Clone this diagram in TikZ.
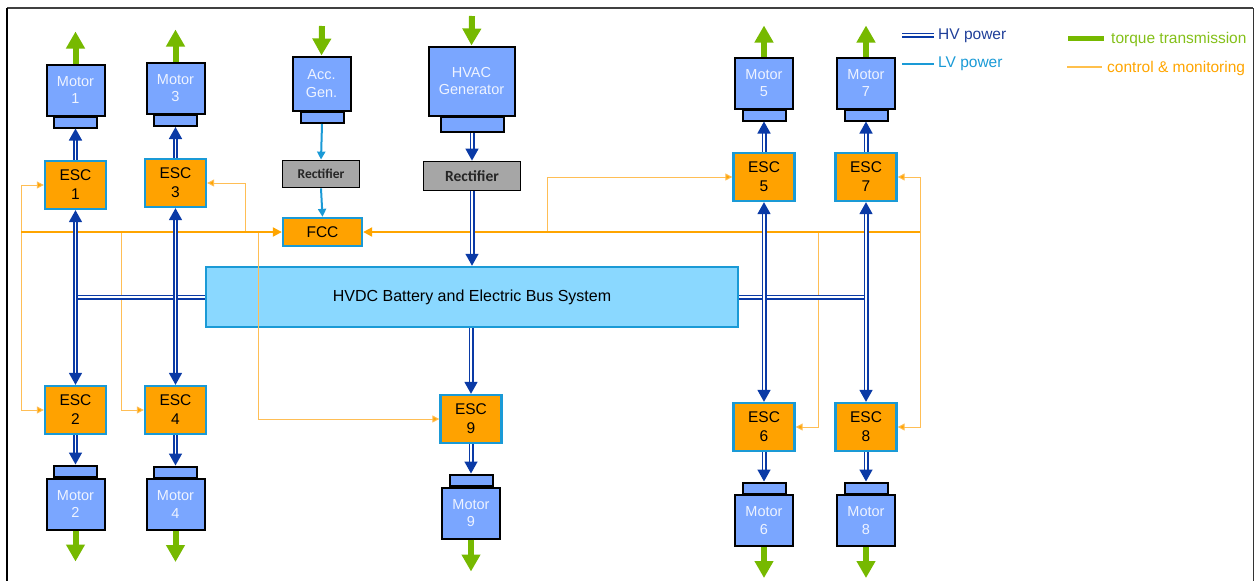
\documentclass[tikz,border=0pt]{standalone}
\usepackage{fontspec}
\setmainfont{Liberation Sans}
\newfontfamily\calfont{Carlito}
\usetikzlibrary{arrows.meta}
\definecolor{motorblue}{HTML}{7AA6FF}
\definecolor{motortext}{HTML}{EEF3FF}
\definecolor{escorange}{HTML}{FFA200}
\definecolor{lblue}{HTML}{1A9AD6}
\definecolor{hvdcfill}{HTML}{8AD8FF}
\definecolor{hvblue}{HTML}{0A3AA6}
\definecolor{hvtext}{HTML}{1F3F99}
\definecolor{tgreen}{HTML}{76B900}
\definecolor{ctrlorange}{HTML}{FFA500}
\definecolor{ctrlthin}{HTML}{FFBE55}
\definecolor{rectgray}{HTML}{A6A6A6}
\tikzset{
  motor/.style={draw=black, line width=2pt, fill=motorblue, minimum width=58pt, minimum height=51pt, inner sep=0pt, text=motortext, font=\fontsize{14.5}{17.5}\selectfont, align=center},
  motorcap/.style={draw=black, line width=2pt, fill=motorblue, minimum width=43pt, minimum height=11pt, inner sep=0pt},
  esc/.style={draw=lblue, line width=2.3pt, fill=escorange, minimum width=61pt, minimum height=48pt, inner sep=0pt, font=\fontsize{15.5}{19}\selectfont, align=center},
  rect/.style={draw=black, line width=1.8pt, fill=rectgray, inner sep=0pt, text=black!85},
  hvdcbox/.style={draw=lblue, line width=2.5pt, fill=hvdcfill, minimum width=532pt, minimum height=60pt, inner sep=0pt, font=\fontsize{16}{19}\selectfont},
  hv/.style={draw=hvblue, double=white, double distance=1.8pt, line width=1.6pt},
  hvarrow/.style={hv, -{Triangle[length=12pt,width=13pt]}},
  hvboth/.style={hv, {Triangle[length=12pt,width=13pt]}-{Triangle[length=12pt,width=13pt]}},
  lv/.style={draw=lblue, line width=2pt, -{Triangle[length=8pt,width=8pt]}},
  torque/.style={draw=tgreen, line width=6pt, -{Triangle[length=17pt,width=18pt]}},
  ctrlmain/.style={draw=ctrlorange, line width=2pt, -{Triangle[length=9pt,width=9pt]}},
  ctrl/.style={draw=ctrlthin, line width=1pt, -{Triangle[length=7pt,width=7pt,fill=ctrlorange]}},
  legendtext/.style={anchor=west, inner sep=0pt, font=\fontsize{15.5}{18}\selectfont}
}
\begin{document}
\begin{tikzpicture}[x=1pt,y=-1pt]
\useasboundingbox (0,0) rectangle (1257,581);
% frame
\draw[black!75, line width=1.5pt] (7,8) -- (1253,8);
\draw[black, line width=2.5pt] (7,8) -- (7,581);
\draw[black!80, line width=1pt] (1253,8) -- (1253,581);

% HVDC
\node[hvdcbox] (hvdc) at (472,297) {HVDC Battery and Electric Bus System};

% motors top
\node[motor] (m1) at (75.5,90) {Motor\\1};
\node[motorcap] (m1c) at (75.5,122) {};
\node[motor] (m3) at (175.5,88) {Motor\\3};
\node[motorcap] (m3c) at (175.5,120.5) {};
\node[motor] (m5) at (764,83) {Motor\\5};
\node[motorcap] (m5c) at (764,115) {};
\node[motor] (m7) at (866,83) {Motor\\7};
\node[motorcap] (m7c) at (866,115) {};

% ESCs
\node[esc] (esc1) at (75.5,185) {ESC\\1};
\node[esc] (esc3) at (175.5,183) {ESC\\3};
\node[esc] (esc5) at (764,177) {ESC\\5};
\node[esc] (esc7) at (866,177) {ESC\\7};
\node[esc] (esc2) at (75.5,410) {ESC\\2};
\node[esc] (esc4) at (175.5,410) {ESC\\4};
\node[esc] (esc6) at (764,427) {ESC\\6};
\node[esc] (esc8) at (866,427) {ESC\\8};
\node[esc] (esc9) at (471,419) {ESC\\9};

% motors bottom
\node[motorcap] (m2c) at (75.5,471) {};
\node[motor] (m2) at (75.5,504) {Motor\\2};
\node[motorcap] (m4c) at (175.5,472) {};
\node[motor] (m4) at (175.5,504.5) {Motor\\4};
\node[motorcap] (m9c) at (471,480) {};
\node[motor] (m9) at (471,513) {Motor\\9};
\node[motorcap] (m6c) at (764,488) {};
\node[motor] (m6) at (764,520.5) {Motor\\6};
\node[motorcap] (m8c) at (866,488) {};
\node[motor] (m8) at (866,520.5) {Motor\\8};

% generators
\node[motor, minimum width=58pt, minimum height=54pt] (acc) at (321.5,83.5) {Acc.\\Gen.};
\node[motorcap] (accc) at (322,117.5) {};
\node[rect, minimum width=77pt, minimum height=27pt, font=\calfont\bfseries\fontsize{13.5}{16}\selectfont] (rect1) at (321,174) {Rectifier};
\node[esc, minimum width=79pt, minimum height=28pt] (fcc) at (322.5,232) {FCC};

\node[motor, minimum width=86pt, minimum height=69pt] (hvac) at (471.5,81) {HVAC\\Generator};
\node[motorcap, minimum width=63pt, minimum height=15pt] (hvacc) at (472,124) {};
\node[rect, minimum width=97pt, minimum height=29pt, font=\calfont\bfseries\fontsize{15.5}{18}\selectfont] (rect2) at (472,176) {Rectifier};

% control coordinates
\coordinate (cL) at (21,232);
\coordinate (cR) at (920,232);
\coordinate (j3) at (245,232);
\coordinate (j4) at (121,232);
\coordinate (j9) at (258,232);
\coordinate (j5) at (547,232);
\coordinate (j6) at (818,232);

% control lines
\draw[ctrl] (cL) |- (esc1.west);
\draw[ctrl] (cL) |- (esc2.west);
\draw[ctrl] (j3) |- (esc3.east);
\draw[ctrl] (j4) |- (esc4.west);
\draw[ctrl] (j9) |- (esc9.west);
\draw[ctrl] (j5) |- (esc5.west);
\draw[ctrl] (cR) |- (esc7.east);
\draw[ctrl] (j6) |- (esc6.east);
\draw[ctrl] (cR) |- (esc8.east);
\draw[ctrlmain] (cL) -- (fcc.west);
\draw[ctrlmain] (cR) -- (fcc.east);

% HV bus
\coordinate (busL) at (75.5,297);
\coordinate (busR) at (866,297);
\draw[hv] (hvdc.west) -- (busL);
\draw[hv] (hvdc.east) -- (busR);

% HV power
\draw[hvboth] (esc1.south) -- (esc2.north);
\draw[hvboth] (esc3.south) -- (esc4.north);
\draw[hvboth] (esc5.south) -- (esc6.north);
\draw[hvboth] (esc7.south) -- (esc8.north);
\draw[hvarrow] (esc1.north) -- (m1c.south);
\draw[hvarrow] (esc3.north) -- (m3c.south);
\draw[hvarrow] (esc5.north) -- (m5c.south);
\draw[hvarrow] (esc7.north) -- (m7c.south);
\draw[hvarrow] (esc2.south) -- (m2c.north);
\draw[hvarrow] (esc4.south) -- (m4c.north);
\draw[hvarrow] (esc6.south) -- (m6c.north);
\draw[hvarrow] (esc8.south) -- (m8c.north);
\draw[hvarrow] (esc9.south) -- (m9c.north);
\draw[hvarrow] (hvdc.south -| esc9.north) -- (esc9.north);
\draw[hvarrow] (hvacc.south) -- (rect2.north);
\draw[hvarrow] (rect2.south) -- (hvdc.north);

% LV power
\draw[lv] (accc.south) -- (rect1.north);
\draw[lv] (rect1.south) -- (fcc.north);

% torque
\coordinate (accin) at (322,26);
\coordinate (hvacin) at (472,16);
\draw[torque] (accin) -- (acc.north);
\draw[torque] (hvacin) -- (hvac.north);
\draw[torque] (m1.north) -- ++(0,-32);
\draw[torque] (m3.north) -- ++(0,-32);
\draw[torque] (m5.north) -- ++(0,-31);
\draw[torque] (m7.north) -- ++(0,-31);
\draw[torque] (m2.south) -- ++(0,31);
\draw[torque] (m4.south) -- ++(0,31);
\draw[torque] (m9.south) -- ++(0,32);
\draw[torque] (m6.south) -- ++(0,31);
\draw[torque] (m8.south) -- ++(0,31);

% legend
\node[legendtext, text=hvtext] (lhv) at (938,36) {HV power};
\node[legendtext, text=lblue] (llv) at (938,64) {LV power};
\node[legendtext, text=tgreen!90!white] (ltq) at (1111,39) {torque transmission};
\node[legendtext, text=ctrlorange] (lcm) at (1107,68) {control \& monitoring};
\coordinate (lhv0) at (902,35);
\coordinate (llv0) at (902,64);
\coordinate (ltq0) at (1068,38);
\coordinate (lcm0) at (1067,67);
\draw[hv] (lhv0) -- ([xshift=-4pt]lhv.west |- lhv0);
\draw[draw=lblue, line width=2.5pt] (llv0) -- ([xshift=-4pt]llv.west |- llv0);
\draw[draw=tgreen, line width=5pt] (ltq0) -- ([xshift=-7pt]ltq.west |- ltq0);
\draw[draw=ctrlorange!70!white, line width=1.2pt] (lcm0) -- ([xshift=-5pt]lcm.west |- lcm0);
\end{tikzpicture}
\end{document}
